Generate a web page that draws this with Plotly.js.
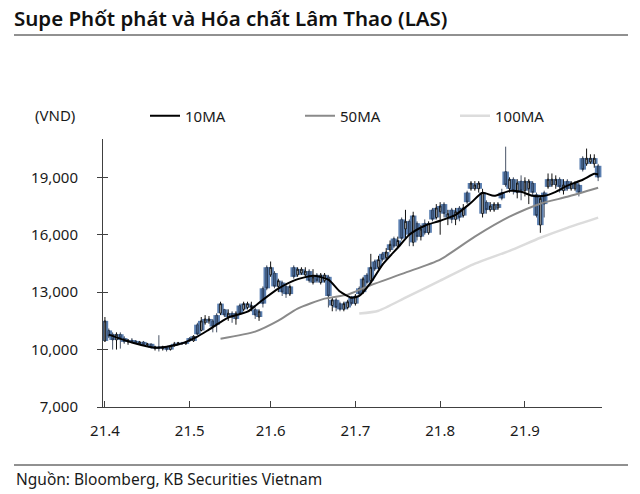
<!DOCTYPE html>
<html>
<head>
<meta charset="utf-8">
<script src="https://cdn.plot.ly/plotly-3.0.1.min.js"></script>
<style>html,body{margin:0;padding:0;background:#fff}#chart{width:640px;height:494px}</style>
</head>
<body>
<div id="chart"></div>
<script>
// ---- Data (VND), daily candles from 2021-04-01 (trading days) ----
const opens = [
10450,11000,10800,10500,10800,10600,10400,10500,10450,10300,10400,10250,10300,10050,10150,10050,10100,10000,10200,10300,10350,10300,
10600,10450,11300,11000,11400,11500,11500,11800,11900,12100,11700,11900,11600,12300,12100,12200,12200,12100,11700,13200,14300,
13900,14000,13300,13500,13300,12900,14300,13900,14000,13900,14100,13500,13900,13500,13600,13800,12300,12600,12400,12100,12200,12700,
12400,13200,13000,13900,13600,14600,14300,15000,14800,15200,15800,15400,16800,16300,16700,15600,16600,15900,16600,16100,17300,16900,
17200,17600,16900,17300,16800,17400,17000,18200,18400,18400,18400,17100,17700,17300,17300,17400,18200,19300,18400,18900,18200,18800,
18300,18400,18700,18100,16500,18200,18500,18600,18600,18900,18300,18800,18400,18400,18600,20000,19700,19800,19700,19600
];
const highs = [
11700,11100,10900,10900,10900,10700,10550,10600,10500,10450,10450,10350,10300,10200,10750,10200,10150,10250,10400,10400,10400,10450,
10650,10750,11400,11700,11800,11750,11600,11900,12500,12100,12100,12000,12000,12400,12500,12500,12500,12200,12100,13300,14400,
14600,14100,13700,13600,13400,13400,14400,14300,14300,14300,14200,14200,14000,14000,14000,13900,12700,12700,12500,12500,12600,12800,
12900,13300,13800,14000,15000,14700,14900,15100,15300,15700,15900,15900,16900,17300,16800,17200,16700,16500,16800,16700,17400,17600,
17700,17700,17300,17400,17400,17500,17600,18300,18800,18800,18800,18400,17800,17700,17700,17700,18400,20600,19000,19000,18900,19100,
19000,18900,18800,18200,18000,18300,19200,19200,19100,19000,18900,18900,18800,18800,18700,20100,20500,20200,20200,19700
];
const lows = [
10400,10600,10000,10000,10050,10300,10250,10350,10300,10250,10200,10150,10050,9950,9900,9950,9900,9950,10150,10250,10250,10250,
10400,10400,10750,10950,11300,11350,10900,10900,11800,11700,11500,11400,11300,11800,12000,12100,12000,11600,11500,12200,13100,
13800,13200,13000,12800,12700,12800,13700,13800,13900,13800,13500,13400,13500,13400,13500,12200,12000,12000,12000,12000,12100,12300,
12300,12800,12900,13400,13500,14100,14200,14600,14700,15100,15300,15300,15700,15800,15400,15400,15700,15700,16000,16000,16700,16800,
16000,16900,16500,16600,16500,16700,16900,17600,18300,18300,18200,16900,17100,17200,17200,17300,17800,18500,18200,18100,17900,17800,
18000,17600,18000,16900,16100,16900,18400,18500,18400,18200,18100,18300,18300,18300,18000,19300,19600,19700,19500,18800
];
const closes = [
11500,10700,10500,10800,10600,10400,10500,10400,10350,10400,10250,10300,10100,10150,10050,10150,10000,10200,10300,10350,10300,10400,
10450,10700,10800,11500,11600,11600,11200,11300,12400,11800,11900,11700,11900,11900,12400,12400,12300,11800,12000,12400,13200,
14300,13300,13600,13000,12900,13300,13800,14200,14200,14100,13600,13800,13600,13900,13900,12800,12600,12200,12100,12400,12500,12400,
12800,12900,13700,13500,14300,14200,14700,14700,15100,15500,15400,15700,15800,16700,16000,17000,15900,16300,16100,16600,16800,17400,
17500,17100,17100,16800,17200,16900,17400,17700,18700,18600,18700,18200,17300,17500,17600,17600,17900,18600,18900,18300,18700,18300,
18800,18800,18200,17000,17900,17600,18900,18900,18900,18500,18600,18400,18700,18700,18200,19400,20000,20000,20000,19000
];

// Moving averages (trading-day index, value)
const ma10Day = [1,7,13,19,24,27,32,37,41,45,49,54,58,61,64,66,69,72,76,79,83,87,91,95,98,101,105,108,111,114,117,120,124,127,128];
const ma10Val = [10780,10370,10100,10260,10680,11040,11670,11980,12600,13180,13600,13860,13650,13030,12710,12800,13500,14430,15320,16000,16470,16730,17040,17670,18190,18030,18290,18240,18030,18030,18240,18560,18870,19180,19150];
const ma50Day = [30,39,45,50,57,63,68,78,87,96,105,113,120,128];
const ma50Val = [10570,10940,11510,12140,12660,12870,13290,14020,14700,15900,16940,17620,17980,18450];
const ma100Day = [66,71,78,87,96,105,113,120,128];
const ma100Val = [11880,12030,12710,13600,14490,15160,15840,16360,16890];

const monthLabels = ['21.4','21.5','21.6','21.7','21.8','21.9'];
const yTicks = [7000,10000,13000,16000,19000];

const titleText = 'Supe Phốt phát và Hóa chất Lâm Thao (LAS)';
const unitText = '(VND)';
const sourceText = 'Nguồn: Bloomberg, KB Securities Vietnam';
const seriesNames = ['10MA','50MA','100MA'];

// ---- trading days (weekdays from 2021-04-01) ----
const dates = [];
{
  let d = new Date(Date.UTC(2021,3,1));
  while (dates.length < opens.length) {
    const wd = d.getUTCDay();
    if (wd !== 0 && wd !== 6) dates.push(new Date(d));
    d.setUTCDate(d.getUTCDate()+1);
  }
}
const monthStarts = [];
dates.forEach((d,i)=>{ if (i===0 || d.getUTCMonth()!==dates[i-1].getUTCMonth()) monthStarts.push(i); });

const idx = opens.map((_,i)=>i);
const bodyLow = idx.map(i=>Math.min(opens[i],closes[i]));
const bodySize = idx.map(i=>Math.max(Math.abs(closes[i]-opens[i]), 60));

const BLUE = '#5b7fb0';
const traces = [
  // wide blue bodies behind every session
  {type:'bar', x: idx, base: bodyLow, y: bodySize, width: 1.7,
   marker:{color:BLUE, line:{width:0}}, showlegend:false, hoverinfo:'skip'},
  // narrow black candles on top (up sessions hollow white, down sessions see-through)
  {
    type:'candlestick', x: idx, open: opens, high: highs, low: lows, close: closes,
    increasing:{line:{color:'#111',width:1},fillcolor:'#ffffff'},
    decreasing:{line:{color:'#1c2a40',width:0.8},fillcolor:'rgba(0,0,0,0)'},
    showlegend:false, hoverinfo:'skip'
  },
  {type:'scatter', mode:'lines', x: ma100Day, y: ma100Val, name: seriesNames[2], line:{color:'#dcdcdc', width:2.5, shape:'spline', smoothing:0.6}},
  {type:'scatter', mode:'lines', x: ma50Day, y: ma50Val, name: seriesNames[1], line:{color:'#8a8a8a', width:2, shape:'spline', smoothing:0.6}},
  {type:'scatter', mode:'lines', x: ma10Day, y: ma10Val, name: seriesNames[0], line:{color:'#000000', width:2, shape:'spline', smoothing:0.6}}
];

const W=640,H=494, L=103, R=38, T=139, B=87;
const pw = W-L-R, ph = H-T-B;
const px2x = px => (px-L)/pw;
const py2y = py => (H-B-py)/ph;

const FONT = 'Noto Sans, sans-serif';
const layout = {
  width:W, height:H,
  margin:{l:L,r:R,t:T,b:B},
  paper_bgcolor:'#fff', plot_bgcolor:'#fff',
  font:{family:FONT, size:15, color:'#1a1a1a'},
  boxgap:0.45,
  title:{text:titleText, x:14/W, xanchor:'left', xref:'container', yref:'container', y:1-19/H, yanchor:'middle',
         font:{family:FONT, size:20.5, weight:600, color:'#111'}},
  xaxis:{
    range:[-0.5,129], showgrid:false, zeroline:false, fixedrange:true,
    showline:true, linecolor:'#404040', linewidth:1,
    tickmode:'array', tickvals: monthStarts, ticktext: monthLabels,
    ticks:'inside', ticklen:6, tickcolor:'#404040', ticklabelstandoff:10,
    rangeslider:{visible:false}, tickfont:{size:15}
  },
  yaxis:{
    range:[7000,21000], showgrid:false, zeroline:false, fixedrange:true,
    showline:true, linecolor:'#404040', linewidth:1,
    tickmode:'array', tickvals: yTicks, tickformat:',d',
    ticks:'outside', ticklen:5, tickcolor:'#404040', ticklabelstandoff:16, tickfont:{size:15}
  },
  yaxis2:{
    overlaying:'y', range:[7000,21000], showgrid:false, zeroline:false, showline:false,
    tickmode:'array', tickvals: yTicks, showticklabels:false,
    ticks:'inside', ticklen:5, tickcolor:'#404040', fixedrange:true
  },
  showlegend:true,
  legend:{orientation:'h', x:px2x(145), xanchor:'left', y:py2y(116), yanchor:'middle',
          font:{size:15}, entrywidth:110, entrywidthmode:'pixels', traceorder:'reversed', bgcolor:'rgba(0,0,0,0)'},
  annotations:[
    {text:unitText, xref:'paper', yref:'paper', x:px2x(33), y:py2y(115), xanchor:'left', yanchor:'middle', showarrow:false, font:{size:15}},
    {text:sourceText, xref:'paper', yref:'paper', x:px2x(14), y:py2y(479), xanchor:'left', yanchor:'middle', showarrow:false, font:{size:15.5}}
  ],
  shapes:[
    {type:'line', xref:'paper', yref:'paper', x0:px2x(14), x1:px2x(628), y0:py2y(35), y1:py2y(35), line:{color:'#222', width:1}},
    {type:'line', xref:'paper', yref:'paper', x0:px2x(14), x1:px2x(628), y0:py2y(465), y1:py2y(465), line:{color:'#222', width:1}}
  ]
};
// invisible helper trace so the overlaid axis draws its inner ticks
traces.push({type:'scatter', x:[0], y:[7000], yaxis:'y2', mode:'markers', marker:{opacity:0}, showlegend:false, hoverinfo:'skip'});

Plotly.newPlot('chart', traces, layout, {displayModeBar:false, staticPlot:true});
</script>
</body>
</html>
